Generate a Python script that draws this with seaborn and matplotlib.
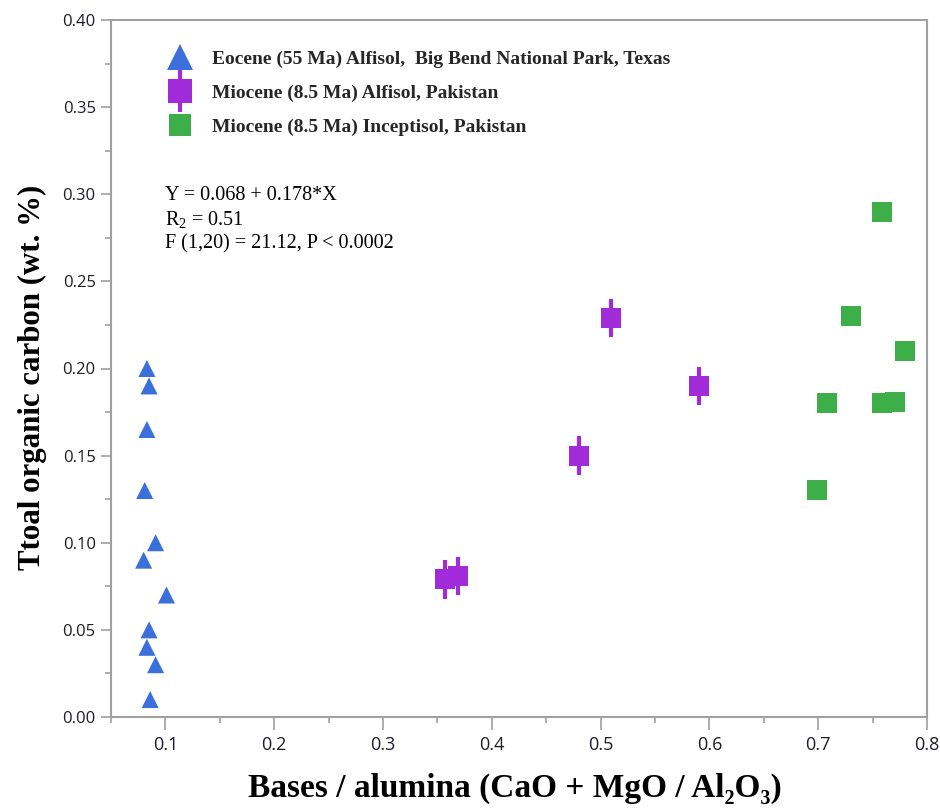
import numpy as np
import pandas as pd
import matplotlib
matplotlib.use("Agg")
import matplotlib.pyplot as plt
from matplotlib.lines import Line2D
from matplotlib.legend_handler import HandlerErrorbar
import seaborn as sns

# ---- data ----
eocene_x = [0.083, 0.085, 0.083, 0.081, 0.091, 0.080, 0.101, 0.085, 0.083, 0.091, 0.086]
eocene_y = [0.200, 0.190, 0.165, 0.130, 0.100, 0.090, 0.070, 0.050, 0.040, 0.030, 0.010]

alfisol_x = [0.357, 0.369, 0.480, 0.510, 0.590]
alfisol_y = [0.079, 0.081, 0.150, 0.229, 0.190]
alfisol_err = [0.011, 0.011, 0.011, 0.011, 0.011]

incept_x = [0.759, 0.730, 0.780, 0.708, 0.759, 0.771, 0.699]
incept_y = [0.290, 0.230, 0.210, 0.180, 0.180, 0.181, 0.130]

labels = ["Eocene (55 Ma) Alfisol,  Big Bend National Park, Texas",
          "Miocene (8.5 Ma) Alfisol, Pakistan",
          "Miocene (8.5 Ma) Inceptisol, Pakistan"]
annot_lines = ["Y = 0.068 + 0.178*X", "R$_2$ = 0.51", "F (1,20) = 21.12, P < 0.0002"]
xlabel = "Bases / alumina (CaO + MgO / Al\u2082O\u2083)"
ylabel = "Ttoal organic carbon (wt. %)"

blue = "#3b6fdc"
purple = "#a12ad9"
green = "#3dae48"

sns.set_theme(style="white")
plt.rcParams["mathtext.default"] = "regular"

fig = plt.figure(figsize=(9.4, 8.11), dpi=100)
ax = fig.add_axes([111/940, 1-717/811, (927-111)/940, (717-20)/811])

df_e = pd.DataFrame({"x": eocene_x, "y": eocene_y})
df_a = pd.DataFrame({"x": alfisol_x, "y": alfisol_y})
df_i = pd.DataFrame({"x": incept_x, "y": incept_y})

ax.errorbar(alfisol_x, alfisol_y, yerr=alfisol_err, fmt="none", ecolor=purple,
            elinewidth=3, capsize=0, zorder=2)
sns.scatterplot(data=df_e, x="x", y="y", marker="^", s=150, color=blue,
                edgecolor="none", linewidth=0, ax=ax, zorder=3)
sns.scatterplot(data=df_a, x="x", y="y", marker="s", s=207, color=purple,
                edgecolor="none", linewidth=0, ax=ax, zorder=3)
sns.scatterplot(data=df_i, x="x", y="y", marker="s", s=207, color=green,
                edgecolor="none", linewidth=0, ax=ax, zorder=3)

ax.set_xlim(0.05, 0.8)
ax.set_ylim(0.0, 0.4)
ax.set_xticks(np.arange(0.1, 0.81, 0.1))
ax.set_xticklabels(["0.1", "0.2", "0.3", "0.4", "0.5", "0.6", "0.7", "0.8"])
ax.set_xticks(np.arange(0.05, 0.81, 0.1), minor=True)
ax.set_yticks(np.arange(0, 0.41, 0.05))
ax.set_yticklabels([f"{v:.2f}" for v in np.arange(0, 0.41, 0.05)])
ax.set_yticks(np.arange(0.025, 0.4, 0.05), minor=True)

for s in ax.spines.values():
    s.set_color("#a0a0a0")
    s.set_linewidth(1.5)
ax.tick_params(axis="both", which="major", direction="out", length=7, width=1.2,
               color="#a0a0a0", labelcolor="#1c1c2c", left=True, bottom=True)
ax.tick_params(axis="both", which="minor", direction="out", length=4, width=1.2,
               color="#a0a0a0", left=True, bottom=True)
ax.tick_params(axis="x", which="major", length=9, pad=5, labelsize=13)
ax.tick_params(axis="y", which="major", labelsize=12, pad=4)
for lab in ax.get_xticklabels() + ax.get_yticklabels():
    lab.set_family("Open Sans")

ax.set_xlabel(xlabel, family="Liberation Serif", fontweight="bold", fontsize=24,
              color="black", va="top")
ax.set_ylabel(ylabel, family="Liberation Serif", fontweight="bold", fontsize=22.2,
              color="black", va="center")
ax.xaxis.set_label_coords((515-111)/816, -(773-717)/697)
ax.yaxis.set_label_coords((32-111)/816, (717-377)/697)

# annotation
for i, line in enumerate(annot_lines):
    ax.text(165, 811-196-24*i, line, transform=None, family="Liberation Serif",
            fontsize=14.5, va="center", ha="left", color="black")

err_handle = ax.errorbar([np.nan], [np.nan], yerr=[0.01], fmt="s", color=purple,
                         markersize=17, markeredgewidth=0, elinewidth=3, capsize=0)
handles = [
    Line2D([], [], marker="^", color=blue, linestyle="none", markersize=19, markeredgewidth=0),
    err_handle,
    Line2D([], [], marker="s", color=green, linestyle="none", markersize=16, markeredgewidth=0),
]
leg = ax.legend(handles, labels, loc="upper left", bbox_to_anchor=(0.056, 0.968),
                frameon=False, prop={"family": "Liberation Serif", "weight": "bold", "size": 14},
                handlelength=1.6, handletextpad=0.85, labelspacing=0.85, borderaxespad=0,
                handler_map={type(err_handle): HandlerErrorbar(xerr_size=1.05, yerr_size=1.1)})

fig.savefig("out.png", dpi=100)
